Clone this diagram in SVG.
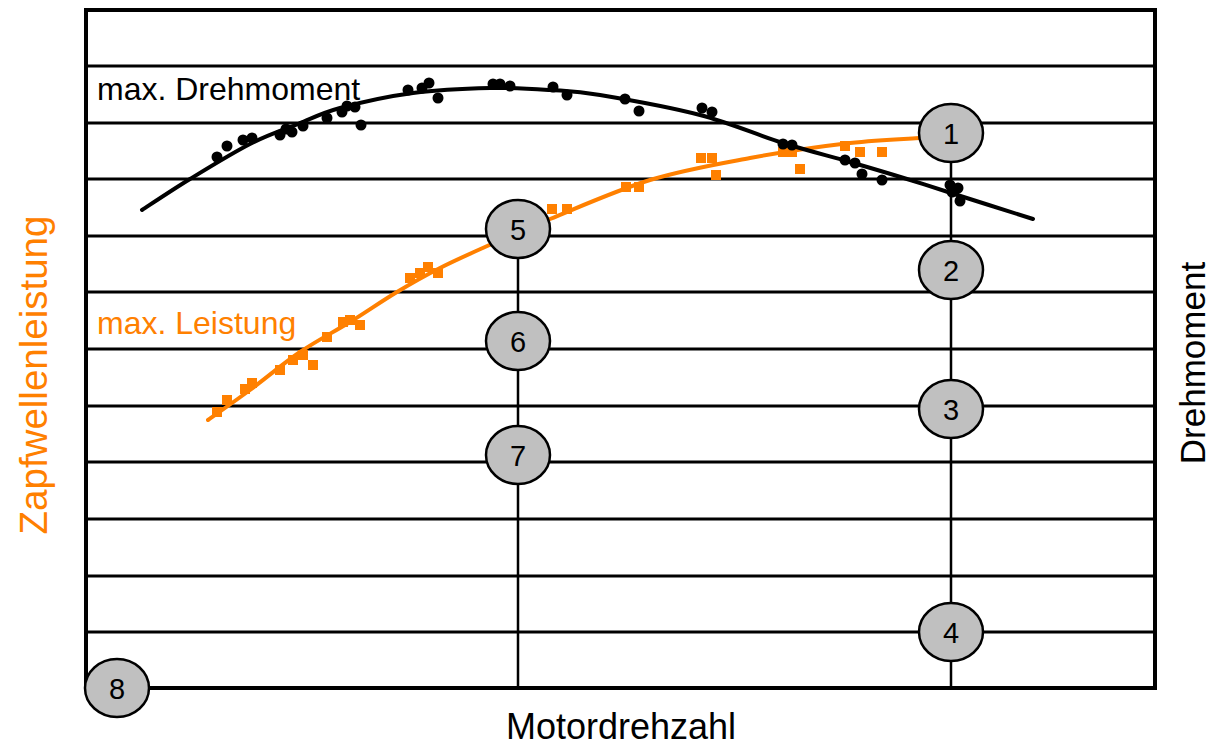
<svg xmlns="http://www.w3.org/2000/svg" width="1224" height="747" viewBox="0 0 1224 747">
<style>
.grid{stroke:#000;stroke-width:3;fill:none}
.border{stroke:#000;stroke-width:4;fill:none}
.vline{stroke:#000;stroke-width:2.5;fill:none}
.curveK{stroke:#000;stroke-width:4;fill:none;stroke-linecap:round}
.curveO{stroke:#FF8000;stroke-width:4;fill:none;stroke-linecap:round}
.dot{fill:#000}
.sq{fill:#FF8000}
.node ellipse{fill:#C0C0C0;stroke:#000;stroke-width:2.5}
.node text{font-family:"Liberation Sans",Arial,sans-serif;font-size:29px;fill:#000;text-anchor:middle}
.lbl{font-family:"Liberation Sans",Arial,sans-serif}
</style>
<rect width="1224" height="747" fill="#fff"/>
<g id="grid">
<line class="grid" x1="86" y1="66" x2="1155" y2="66"/>
<line class="grid" x1="86" y1="123" x2="1155" y2="123"/>
<line class="grid" x1="86" y1="179" x2="1155" y2="179"/>
<line class="grid" x1="86" y1="236" x2="1155" y2="236"/>
<line class="grid" x1="86" y1="292" x2="1155" y2="292"/>
<line class="grid" x1="86" y1="349" x2="1155" y2="349"/>
<line class="grid" x1="86" y1="406" x2="1155" y2="406"/>
<line class="grid" x1="86" y1="462" x2="1155" y2="462"/>
<line class="grid" x1="86" y1="519" x2="1155" y2="519"/>
<line class="grid" x1="86" y1="576" x2="1155" y2="576"/>
<line class="grid" x1="86" y1="632" x2="1155" y2="632"/>
<rect class="border" x="86" y="10" width="1069" height="678"/>
</g>
<g id="connectors">
<line class="vline" x1="518" y1="229" x2="518" y2="688"/>
<line class="vline" x1="951" y1="133" x2="951" y2="688"/>
</g>
<g id="curve-leistung">
<path class="curveO" d="M208,420 C215,415 234.7,401.3 250,390 C265.3,378.7 283.3,363.3 300,352 C316.7,340.7 333.8,332 350,322 C366.2,312 382,301 397,292 C412,283 425.3,275.5 440,268 C454.7,260.5 466.7,255.2 485,247 C503.3,238.8 522.5,230.2 550,219 C577.5,207.8 616.7,190.2 650,180 C683.3,169.8 716.7,164.2 750,158 C783.3,151.8 821.7,146.3 850,143 C878.3,139.7 908.3,138.8 920,138"/>
<g>
<rect class="sq" x="212" y="407" width="10" height="10"/>
<rect class="sq" x="222" y="395" width="10" height="10"/>
<rect class="sq" x="240" y="384" width="10" height="10"/>
<rect class="sq" x="247" y="378" width="10" height="10"/>
<rect class="sq" x="275" y="365" width="10" height="10"/>
<rect class="sq" x="288" y="355" width="10" height="10"/>
<rect class="sq" x="298" y="350" width="10" height="10"/>
<rect class="sq" x="308" y="360" width="10" height="10"/>
<rect class="sq" x="322" y="332" width="10" height="10"/>
<rect class="sq" x="338" y="317" width="10" height="10"/>
<rect class="sq" x="345" y="315" width="10" height="10"/>
<rect class="sq" x="355" y="320" width="10" height="10"/>
<rect class="sq" x="405" y="273" width="10" height="10"/>
<rect class="sq" x="415" y="268" width="10" height="10"/>
<rect class="sq" x="423" y="262" width="10" height="10"/>
<rect class="sq" x="433" y="268" width="10" height="10"/>
<rect class="sq" x="547" y="204" width="10" height="10"/>
<rect class="sq" x="562" y="204" width="10" height="10"/>
<rect class="sq" x="621" y="182" width="10" height="10"/>
<rect class="sq" x="634" y="182" width="10" height="10"/>
<rect class="sq" x="696" y="153" width="10" height="10"/>
<rect class="sq" x="707" y="153" width="10" height="10"/>
<rect class="sq" x="711" y="170" width="10" height="10"/>
<rect class="sq" x="778" y="147" width="10" height="10"/>
<rect class="sq" x="787" y="147" width="10" height="10"/>
<rect class="sq" x="795" y="164" width="10" height="10"/>
<rect class="sq" x="840" y="141" width="10" height="10"/>
<rect class="sq" x="855" y="147" width="10" height="10"/>
<rect class="sq" x="877" y="147" width="10" height="10"/>
</g>
</g>
<g id="curve-drehmoment">
<path class="curveK" d="M142,210 C150,204.8 172,190 190,179 C208,168 232,153.2 250,144 C268,134.8 283,130 298,124 C313,118 320.8,113.2 340,108 C359.2,102.8 388,96.3 413,93 C438,89.7 467.2,88.5 490,88 C512.8,87.5 531.7,88.8 550,90 C568.3,91.2 575,90.8 600,95 C625,99.2 669.5,107 700,115 C730.5,123 758,135.2 783,143 C808,150.8 829.3,156 850,162 C870.7,168 890.2,173.8 907,179 C923.8,184.2 930,186.3 951,193 C972,199.7 1019.3,214.7 1033,219"/>
<g>
<circle class="dot" cx="217" cy="157" r="5.5"/>
<circle class="dot" cx="227" cy="146" r="5.5"/>
<circle class="dot" cx="243" cy="140" r="5.5"/>
<circle class="dot" cx="252" cy="138" r="5.5"/>
<circle class="dot" cx="280" cy="135" r="5.5"/>
<circle class="dot" cx="286" cy="129" r="5.5"/>
<circle class="dot" cx="292" cy="132" r="5.5"/>
<circle class="dot" cx="303" cy="126" r="5.5"/>
<circle class="dot" cx="327" cy="118" r="5.5"/>
<circle class="dot" cx="342" cy="112" r="5.5"/>
<circle class="dot" cx="347" cy="106" r="5.5"/>
<circle class="dot" cx="355" cy="107" r="5.5"/>
<circle class="dot" cx="361" cy="125" r="5.5"/>
<circle class="dot" cx="408" cy="90" r="5.5"/>
<circle class="dot" cx="422" cy="88" r="5.5"/>
<circle class="dot" cx="429" cy="83" r="5.5"/>
<circle class="dot" cx="438" cy="98" r="5.5"/>
<circle class="dot" cx="493" cy="84" r="5.5"/>
<circle class="dot" cx="500" cy="84" r="5.5"/>
<circle class="dot" cx="510" cy="86" r="5.5"/>
<circle class="dot" cx="553" cy="87" r="5.5"/>
<circle class="dot" cx="567" cy="95" r="5.5"/>
<circle class="dot" cx="625" cy="99" r="5.5"/>
<circle class="dot" cx="639" cy="111" r="5.5"/>
<circle class="dot" cx="702" cy="108" r="5.5"/>
<circle class="dot" cx="712" cy="112" r="5.5"/>
<circle class="dot" cx="783" cy="144" r="5.5"/>
<circle class="dot" cx="792" cy="145" r="5.5"/>
<circle class="dot" cx="845" cy="160" r="5.5"/>
<circle class="dot" cx="855" cy="163" r="5.5"/>
<circle class="dot" cx="862" cy="174" r="5.5"/>
<circle class="dot" cx="882" cy="180" r="5.5"/>
<circle class="dot" cx="950" cy="185" r="5.5"/>
<circle class="dot" cx="958" cy="188" r="5.5"/>
<circle class="dot" cx="952" cy="192" r="5.5"/>
<circle class="dot" cx="955" cy="190" r="5.5"/>
<circle class="dot" cx="960" cy="201" r="5.5"/>
</g>
</g>
<g id="node1" class="node"><ellipse cx="951" cy="133" rx="32" ry="29"/><text x="951" y="144">1</text></g>
<g id="node2" class="node"><ellipse cx="951" cy="270" rx="32" ry="29"/><text x="951" y="281">2</text></g>
<g id="node3" class="node"><ellipse cx="951" cy="409" rx="32" ry="29"/><text x="951" y="420">3</text></g>
<g id="node4" class="node"><ellipse cx="951" cy="632" rx="32" ry="29"/><text x="951" y="643">4</text></g>
<g id="node5" class="node"><ellipse cx="518" cy="229" rx="32" ry="29"/><text x="518" y="240">5</text></g>
<g id="node6" class="node"><ellipse cx="518" cy="341" rx="32" ry="29"/><text x="518" y="352">6</text></g>
<g id="node7" class="node"><ellipse cx="518" cy="455" rx="32" ry="29"/><text x="518" y="466">7</text></g>
<g id="node8" class="node"><ellipse cx="117" cy="688" rx="32" ry="29"/><text x="117" y="699">8</text></g>
<g id="labels">
<text class="lbl" x="97" y="100" font-size="32" fill="#000">max. Drehmoment</text>
<text class="lbl" x="97" y="334" font-size="32" fill="#FF8000">max. Leistung</text>
<text class="lbl" x="621" y="739" font-size="36" text-anchor="middle" fill="#000">Motordrehzahl</text>
<text class="lbl" x="47" y="375" font-size="38.5" text-anchor="middle" fill="#FF8000" transform="rotate(-90 47 375)">Zapfwellenleistung</text>
<text class="lbl" x="1205" y="363" font-size="35" text-anchor="middle" fill="#000" transform="rotate(-90 1205 363)">Drehmoment</text>
</g>
</svg>
